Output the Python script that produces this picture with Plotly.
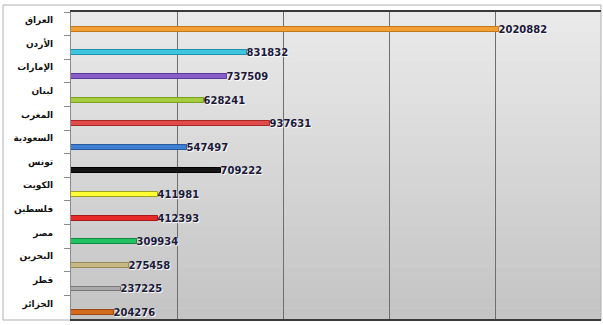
import plotly.graph_objects as go

countries = ["العراق", "الأردن", "الإمارات", "لبنان", "المغرب", "السعودية", "تونس",
             "الكويت", "فلسطين", "مصر", "البحرين", "قطر", "الجزائر"]
values = [2020882, 831832, 737509, 628241, 937631, 547497, 709222,
          411981, 412393, 309934, 275458, 237225, 204276]
bar_colors = ["#f2a033", "#3ec6e0", "#8a5ec8", "#a6cc3e", "#e04a4a", "#3f7fd2", "#151515",
              "#ffff33", "#e62a2a", "#22c264", "#c8b884", "#a9a9a9", "#d06a1c"]
line_colors = ["#c07818", "#2090a8", "#5a3a98", "#78a020", "#a82828", "#2858a0", "#000000",
               "#a0a020", "#a81818", "#108840", "#988858", "#787878", "#984810"]
x_ticks = [0, 500000, 1000000, 1500000, 2000000, 2500000]

pos = list(range(len(countries)))

fig = go.Figure()
fig.add_trace(go.Bar(
    x=values, y=pos, orientation="h",
    width=0.21, offset=0.125,
    marker=dict(color=bar_colors, line=dict(color=line_colors, width=1)),
    text=[str(v) for v in values], textposition="outside", cliponaxis=False,
    constraintext="none",
    textfont=dict(family="DejaVu Sans", size=10, color="#1c1838", weight="bold",
                  shadow="1px 1px 1px #ffffff"),
    hoverinfo="skip",
))

# vertical gradient background strips
n = 30
top = (234, 234, 234)
bot = (196, 196, 196)
for i in range(n):
    t = i / (n - 1)
    c = tuple(int(round(top[k] + (bot[k] - top[k]) * t)) for k in range(3))
    fig.add_shape(type="rect", xref="paper", yref="paper", layer="below",
                  x0=0, x1=1, y0=1 - (i + 1) / n, y1=1 - i / n + 0.002,
                  fillcolor="rgb(%d,%d,%d)" % c, line=dict(width=0))

# outer frame
fig.add_shape(type="rect", xref="paper", yref="paper",
              x0=-68 / 530, x1=1.0, y0=-1 / 307, y1=1 + 7 / 307,
              line=dict(color="#b0b0b0", width=1), fillcolor="rgba(0,0,0,0)", layer="below")

fig.update_layout(
    width=603, height=325,
    margin=dict(l=71, r=2, t=12, b=6),
    paper_bgcolor="#ffffff",
    plot_bgcolor="rgba(0,0,0,0)",
    showlegend=False,
    bargap=0,
    xaxis=dict(range=[0, 2500000], tickvals=x_ticks, showticklabels=False,
               showgrid=True, gridcolor="#6e6e6e", gridwidth=1, zeroline=False,
               showline=True, linecolor="#3a3a3a", linewidth=1.5, mirror=True, ticks=""),
    yaxis=dict(range=[12.5, -0.5], tickmode="array",
               tickvals=[p - 0.16 for p in pos], ticktext=countries,
               ticks="", showgrid=False, zeroline=False,
               showline=True, linecolor="#8a8a8a", linewidth=1, mirror=False,
               ticklabelstandoff=15,
               tickfont=dict(family="DejaVu Sans", size=9, color="#111111", weight="bold"),
               minor=dict(tickmode="array", tickvals=[p + 0.5 for p in pos[:-1]] + [-0.5],
                          ticks="outside", ticklen=6, tickcolor="#8a8a8a", tickwidth=1,
                          showgrid=False)),
)

fig.write_html("out.html")
